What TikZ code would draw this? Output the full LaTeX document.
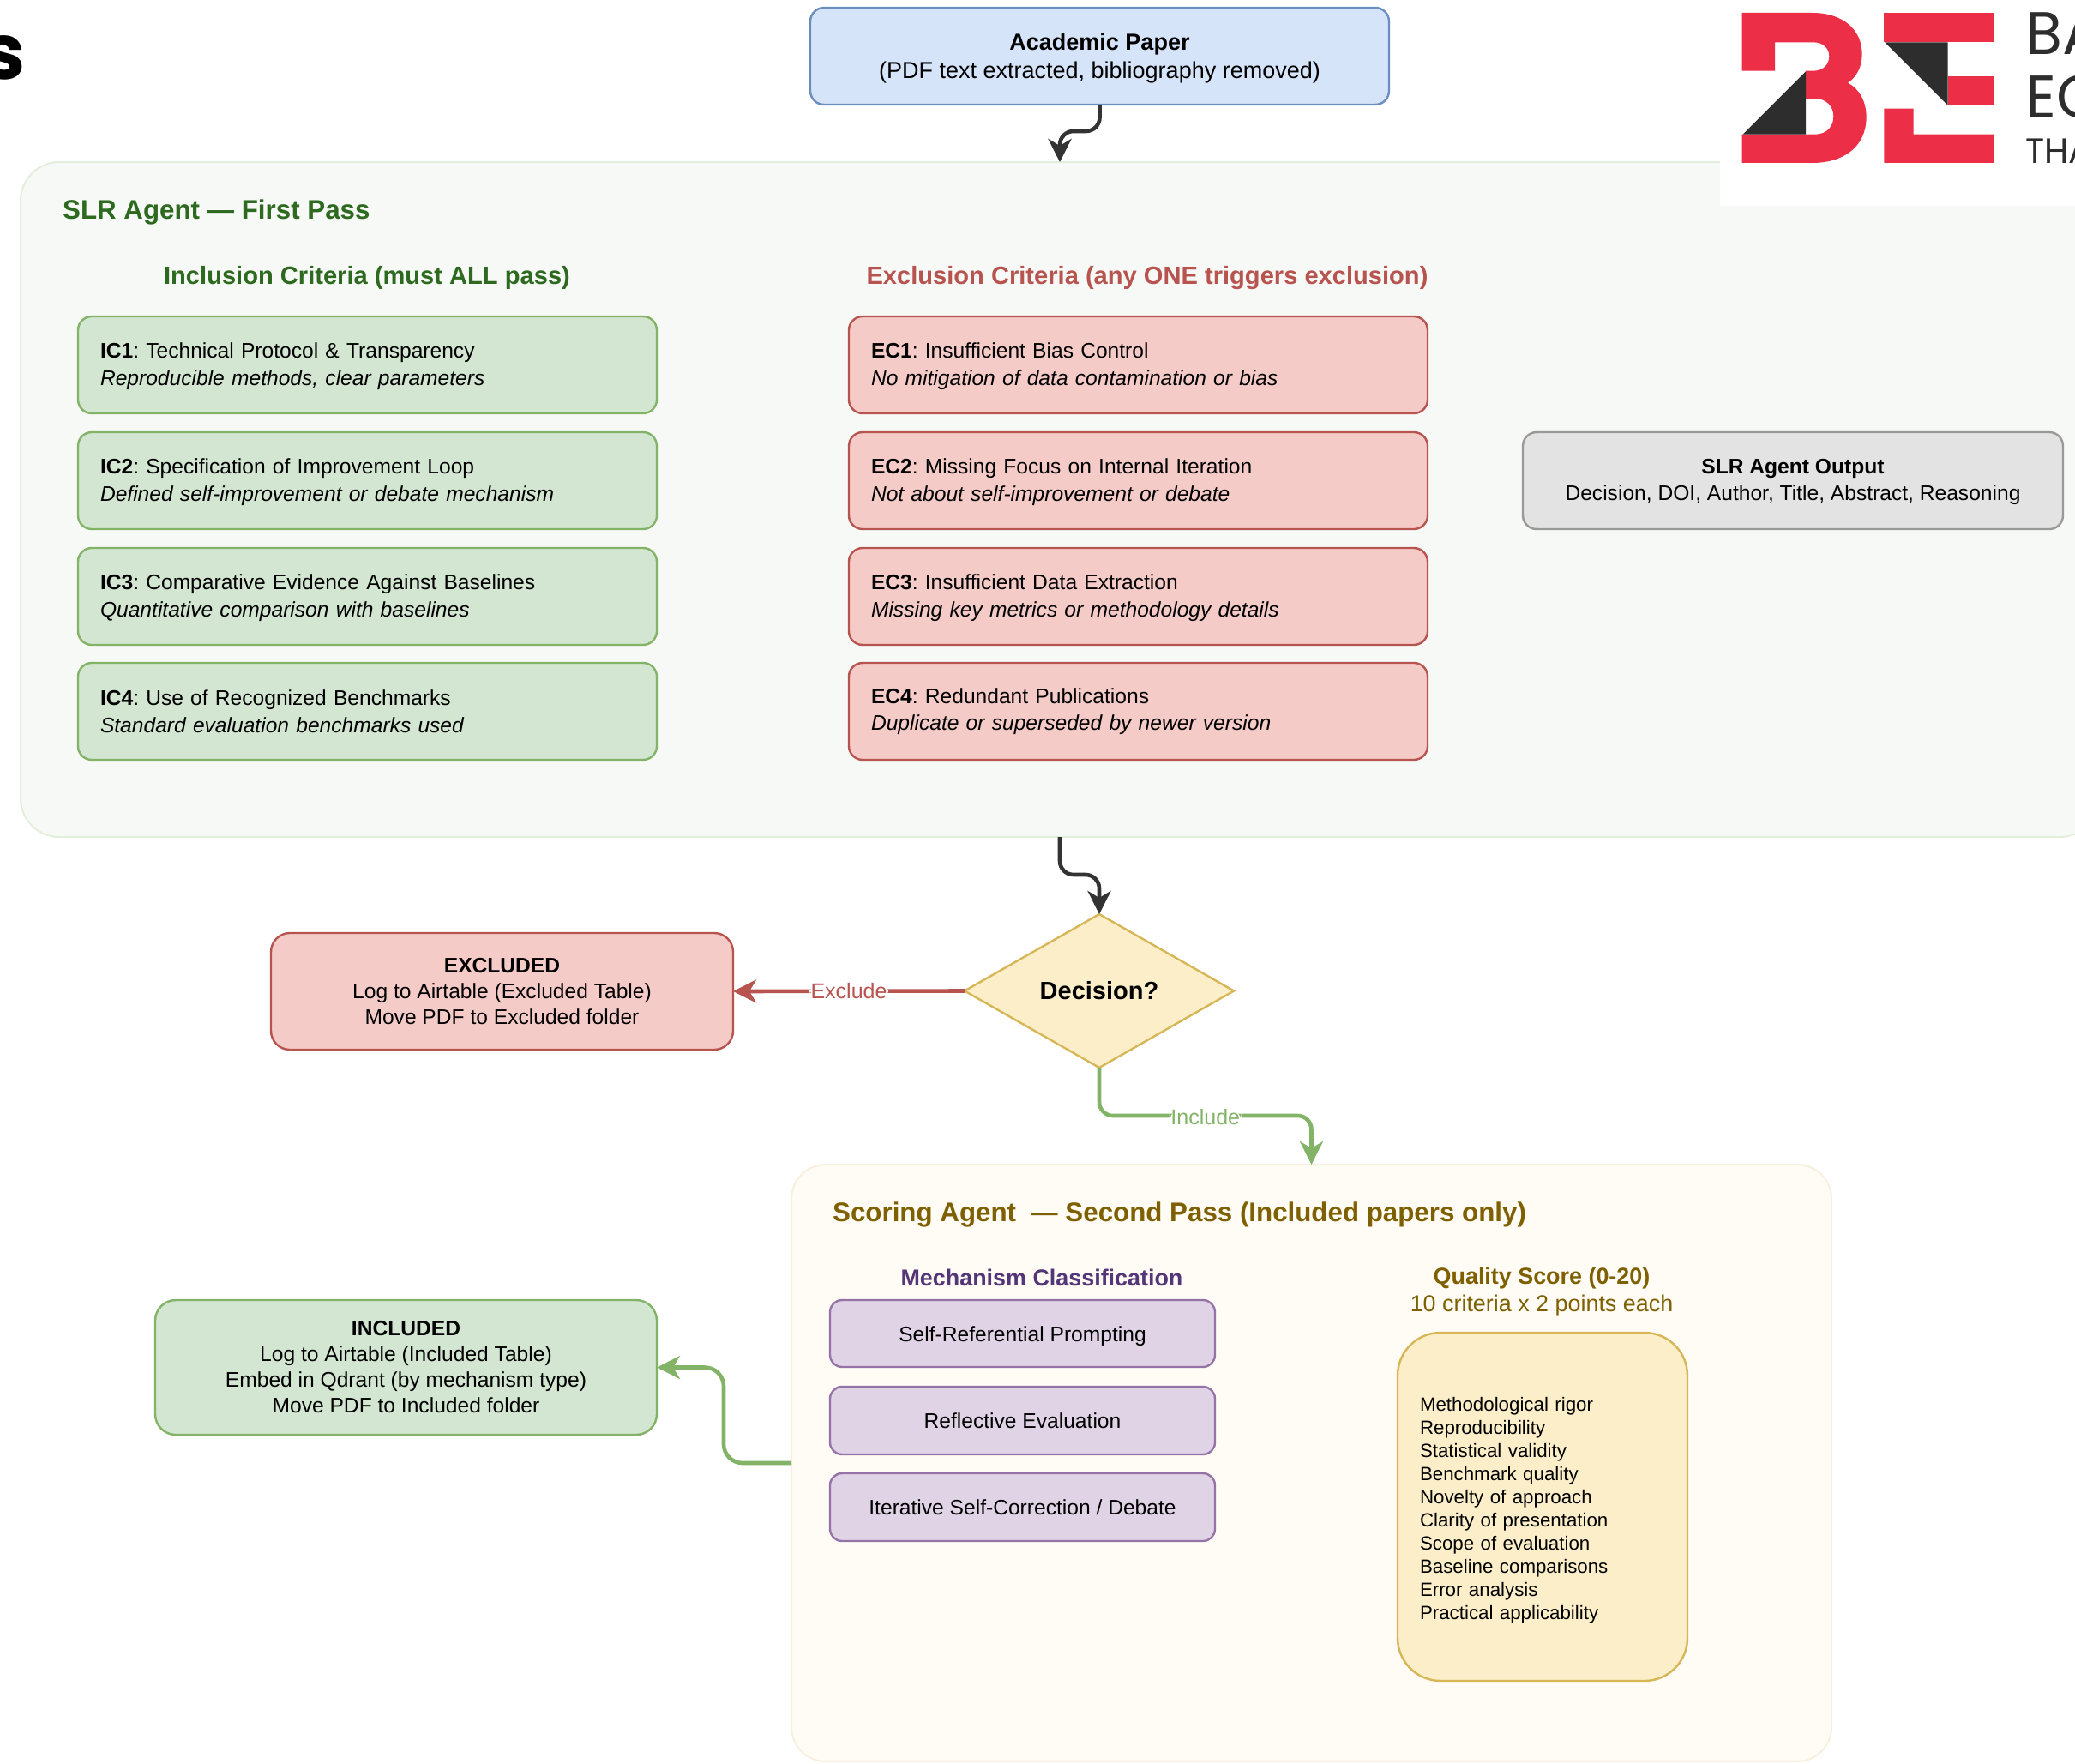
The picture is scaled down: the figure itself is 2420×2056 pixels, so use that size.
\documentclass[tikz,border=0pt]{standalone}
\usepackage{fontspec}
\setmainfont{Liberation Sans}
\newfontfamily\logofont{Poppins}
\frenchspacing
\usetikzlibrary{arrows.meta,shapes.geometric}
\definecolor{bluefill}{HTML}{D6E4FA}\definecolor{bluedraw}{HTML}{6C8EBF}
\definecolor{greenfill}{HTML}{D3E6D2}\definecolor{greendraw}{HTML}{82B366}
\definecolor{redfill}{HTML}{F5CBC8}\definecolor{reddraw}{HTML}{B85450}
\definecolor{yelfill}{HTML}{FCEEC8}\definecolor{yeldraw}{HTML}{D6B656}
\definecolor{purfill}{HTML}{E0D3E6}\definecolor{purdraw}{HTML}{9673A6}
\definecolor{grayfill}{HTML}{E3E3E3}\definecolor{graydraw}{HTML}{999999}
\definecolor{contg}{HTML}{F6F9F5}\definecolor{contgd}{HTML}{E3EFDC}
\definecolor{conty}{HTML}{FFFCF5}\definecolor{contyd}{HTML}{F8F0DE}
\definecolor{titleg}{HTML}{2D6A1F}\definecolor{titley}{HTML}{7F6000}
\definecolor{titlep}{HTML}{533578}\definecolor{arrowdark}{HTML}{333333}
\definecolor{logored}{HTML}{EC2F46}\definecolor{logodark}{HTML}{2D2D2D}
\tikzset{
  basebox/.style={draw,inner sep=0pt,outer sep=0pt,line width=2.4pt,align=center},
  fsbody/.style={font=\fontsize{27}{33}\selectfont},
  fscard/.style={font=\fontsize{24.6}{31.5}\selectfont},
  fstight/.style={font=\fontsize{24.6}{30}\selectfont},
  criteria/.style={basebox,fscard,align=left,inner xsep=26pt,text width=623pt,rounded corners=16pt},
  icbox/.style={criteria,fill=greenfill,draw=greendraw},
  ecbox/.style={criteria,fill=redfill,draw=reddraw},
  paperbox/.style={basebox,fsbody,fill=bluefill,draw=bluedraw,rounded corners=16pt},
  outbox/.style={basebox,fscard,fill=grayfill,draw=graydraw,rounded corners=16pt},
  exclbox/.style={basebox,fstight,fill=redfill,draw=reddraw,rounded corners=22pt},
  inclbox/.style={basebox,fstight,fill=greenfill,draw=greendraw,rounded corners=24pt},
  mechbox/.style={basebox,fscard,fill=purfill,draw=purdraw,rounded corners=14pt},
  qualbox/.style={basebox,fill=yelfill,draw=yeldraw,rounded corners=50pt,align=left,
     font=\fontsize{22.3}{27}\selectfont,inner xsep=26pt,text width=286pt},
  slrcont/.style={draw=contgd,fill=contg,line width=2pt,rounded corners=45pt,inner sep=0pt,outer sep=0pt},
  scorecont/.style={draw=contyd,fill=conty,line width=2pt,rounded corners=40pt,inner sep=0pt,outer sep=0pt},
  heading/.style={font=\fontsize{31.3}{36}\selectfont\bfseries,inner sep=0pt},
  subheading/.style={font=\fontsize{29.1}{32}\selectfont\bfseries,inner sep=0pt,align=center},
  subsmall/.style={font=\fontsize{26.9}{32}\selectfont\bfseries,inner sep=0pt,align=center},
  conn/.style={line width=4.6pt,rounded corners=16pt,-{Stealth[length=27pt,width=27pt,inset=8pt]}},
  edgelabel/.style={fill=white,inner sep=1.5pt,font=\fontsize{25}{30}\selectfont},
  logotext/.style={font=\logofont\fontsize{70}{70}\selectfont,text=logodark,inner sep=0pt,anchor=base west},
}
% style, name, x1, y1, x2, y2, downward shift of the text, text
\newcommand\bx[8]{%
  \node[#1,minimum width={(#5-#3)*1pt},minimum height={(#6-#4)*1pt}] (#2) at ({(#3+#5)/2},{(#4+#6)/2}) {};
  \node[#1,draw=none,fill=none,minimum width={(#5-#3)*1pt},minimum height={(#6-#4)*1pt},yshift={-(#7)*1pt}] (#2text) at (#2.center) {#8};}
\begin{document}
\begin{tikzpicture}[x=1pt,y=-1pt]
\useasboundingbox (0,0) rectangle (2420,2056);
% containers
\bx{slrcont}{slr}{24}{189}{2448}{976}{0}{}
\bx{scorecont}{score}{923}{1358}{2136}{2054}{0}{}
% stray title letter
\node[font=\fontsize{90}{90}\selectfont\bfseries\logofont,text=black,inner sep=0pt,anchor=base east] (strayS) at (30,92) {s};
% logo
\fill[white] (2006,0) rectangle (2420,240);
\begin{scope}[shift={(1900,0)},x=0.3333pt,y=-0.3333pt]
\fill[logored] (395,45) -- (640,45) .. controls (750,45) and (815,105) .. (815,190) .. controls (815,235) and (795,270) .. (765,290) .. controls (805,310) and (830,355) .. (830,410) .. controls (830,510) and (755,570) .. (640,570) -- (395,570) -- (395,470) -- (650,470) .. controls (695,470) and (715,440) .. (715,407) .. controls (715,372) and (690,345) .. (650,345) -- (618,345) -- (618,248) -- (645,248) .. controls (680,248) and (700,225) .. (700,197) .. controls (700,170) and (680,148) .. (645,148) -- (510,148) -- (510,248) -- (395,248) -- cycle;
\fill[logodark] (398,470) -- (618,470) -- (618,250) -- cycle;
\fill[logored] (892,45) rectangle (1275,148);
\fill[logored] (1115,268) rectangle (1275,370);
\fill[logored] (892,380) -- (995,380) -- (995,470) -- (1275,470) -- (1275,570) -- (892,570) -- cycle;
\fill[logodark] (895,148) -- (1115,148) -- (1115,368) -- cycle;
\end{scope}
\node[logotext] (logoA) at (2362,63) {BA};
\node[logotext] (logoB) at (2362,137) {EC};
\node[logotext,font=\logofont\fontsize{41}{41}\selectfont] (logoC) at (2362,190) {THA};
% titles
\node[heading,text=titleg,anchor=base west] (slrtitle) at (73,255) {SLR Agent — First Pass};
\node[subheading,text=titleg] (inctitle) at (428,324) {Inclusion Criteria (must ALL pass)};
\node[subheading,text=reddraw] (exctitle) at (1338,324) {Exclusion Criteria (any ONE triggers exclusion)};
% paper
\bx{paperbox}{paper}{945}{9}{1620}{122}{2.5}{\textbf{Academic Paper}\\(PDF text extracted, bibliography removed)}
% IC
\bx{icbox}{ic1}{91}{369}{766}{482}{1.5}{\textbf{IC1}: Technical Protocol \& Transparency\\\textit{Reproducible methods, clear parameters}}
\bx{icbox}{ic2}{91}{504}{766}{617}{1.5}{\textbf{IC2}: Specification of Improvement Loop\\\textit{Defined self-improvement or debate mechanism}}
\bx{icbox}{ic3}{91}{639}{766}{752}{1.5}{\textbf{IC3}: Comparative Evidence Against Baselines\\\textit{Quantitative comparison with baselines}}
\bx{icbox}{ic4}{91}{773}{766}{886}{0}{\textbf{IC4}: Use of Recognized Benchmarks\\\textit{Standard evaluation benchmarks used}}
% EC
\bx{ecbox}{ec1}{990}{369}{1665}{482}{1.5}{\textbf{EC1}: Insufficient Bias Control\\\textit{No mitigation of data contamination or bias}}
\bx{ecbox}{ec2}{990}{504}{1665}{617}{1.5}{\textbf{EC2}: Missing Focus on Internal Iteration\\\textit{Not about self-improvement or debate}}
\bx{ecbox}{ec3}{990}{639}{1665}{752}{1.5}{\textbf{EC3}: Insufficient Data Extraction\\\textit{Missing key metrics or methodology details}}
\bx{ecbox}{ec4}{990}{773}{1665}{886}{0}{\textbf{EC4}: Redundant Publications\\\textit{Duplicate or superseded by newer version}}
% output
\bx{outbox}{output}{1776}{504}{2406}{617}{1.5}{\textbf{SLR Agent Output}\\Decision, DOI, Author, Title, Abstract, Reasoning}
% decision
\node[diamond,draw=yeldraw,fill=yelfill,line width=2.4pt,inner sep=0pt,outer sep=0pt,shape aspect=1.75,minimum width=314pt,minimum height=179pt,font=\fontsize{29}{34}\selectfont\bfseries] (dec) at (1282,1155.5) {Decision?};
% excluded / included
\bx{exclbox}{excl}{316}{1088}{855}{1224}{0}{\textbf{EXCLUDED}\\Log to Airtable (Excluded Table)\\Move PDF to Excluded folder}
\bx{inclbox}{incl}{181}{1516}{766}{1673}{-0.5}{\textbf{INCLUDED}\\Log to Airtable (Included Table)\\Embed in Qdrant (by mechanism type)\\Move PDF to Included folder}
% scoring
\node[heading,text=titley,anchor=base west] (scoretitle) at (971,1424) {Scoring Agent\ \ — Second Pass (Included papers only)};
\node[subsmall,text=titlep] (mechtitle) at (1215,1489.5) {Mechanism Classification};
\node[subsmall,text=titley] (qualtitle) at (1798,1491) {Quality Score (0-20)};
\node[font=\fontsize{26.9}{32}\selectfont,text=titley,inner sep=0pt] (qualsub) at (1798,1522.5) {10 criteria x 2 points each};
\bx{mechbox}{m1}{968}{1516}{1417}{1594}{3}{Self-Referential Prompting}
\bx{mechbox}{m2}{968}{1617}{1417}{1696}{0}{Reflective Evaluation}
\bx{mechbox}{m3}{968}{1718}{1417}{1797}{0}{Iterative Self-Correction / Debate}
\bx{qualbox}{qual}{1630}{1554}{1968}{1960}{4.5}{Methodological rigor\\Reproducibility\\Statistical validity\\Benchmark quality\\Novelty of approach\\Clarity of presentation\\Scope of evaluation\\Baseline comparisons\\Error analysis\\Practical applicability}
% bend coordinates
\coordinate (b1a) at (paper.south |- 0,153);
\coordinate (b1b) at (slr.north |- 0,153);
\coordinate (b2a) at (slr.south |- 0,1020);
\coordinate (b2b) at (dec.north |- 0,1020);
\coordinate (b3a) at (dec.south |- 0,1301);
\coordinate (b3b) at (score.north |- 0,1301);
\coordinate (b4a) at (844,1706);
\coordinate (b4b) at (844,1594.5);
% connectors
\draw[conn,arrowdark] (paper.south) -- (b1a) -- (b1b) -- (slr.north);
\draw[conn,arrowdark] (slr.south) -- (b2a) -- (b2b) -- (dec.north);
\draw[conn,reddraw] (dec.west) -- node[edgelabel,text=reddraw] (lblx) {Exclude} (excl.east);
\draw[conn,greendraw] (dec.south) -- (b3a) -- node[edgelabel,text=greendraw,yshift=-2pt] (lbli) {Include} (b3b) -- (score.north);
\draw[conn,greendraw,rounded corners=22pt] (score.west) -- (b4a) -- (b4b) -- (incl.east);
\end{tikzpicture}
\end{document}
